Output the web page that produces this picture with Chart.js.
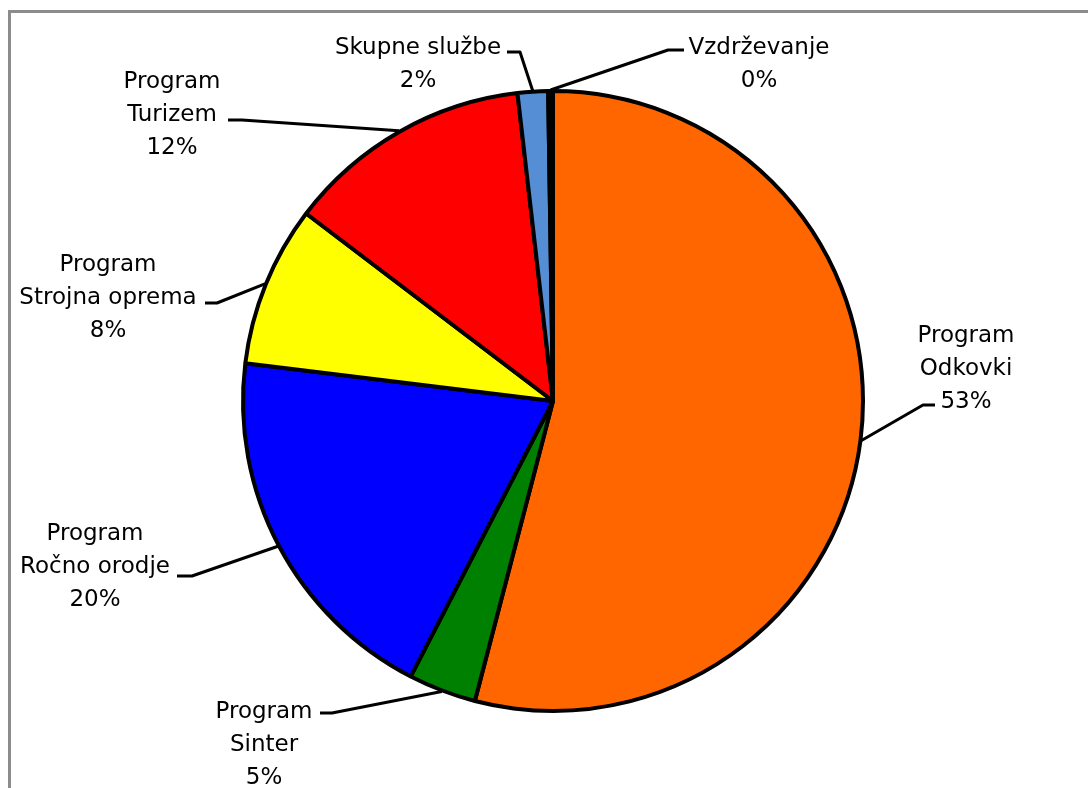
<!DOCTYPE html>
<html>
<head>
<meta charset="utf-8">
<script src="https://cdn.jsdelivr.net/npm/chart.js@4.4.1/dist/chart.umd.min.js"></script>
<style>
  html, body { margin: 0; padding: 0; background: #fff; }
  #wrap { width: 1088px; height: 788px; position: relative; }
</style>
</head>
<body>
<div id="wrap"><canvas id="pie" width="1088" height="788"></canvas></div>
<script>
'use strict';

// Slice names (two-line labels) and shares
const CATEGORIES = [
    ['Program', 'Odkovki'],
    ['Program', 'Sinter'],
    ['Program', 'Ročno orodje'],
    ['Program', 'Strojna oprema'],
    ['Program', 'Turizem'],
    ['Skupne službe'],
    ['Vzdrževanje'],
];
const SHARES = [54.05, 3.53, 19.36, 8.39, 12.83, 1.58, 0.25];
const PERCENT_LABELS = ['53%', '5%', '20%', '8%', '12%', '2%', '0%'];
const SLICE_COLORS = ['#FF6600', '#008000', '#0000FF', '#FFFF00', '#FF0000', '#558ED5', '#000000'];

// Label placement: text centre x, first baseline, leader elbow and end
const LABEL_LAYOUT = [
    { cx: 966, y: 342, elbow: [923, 405], end: [935, 405] },
    { cx: 264, y: 718, elbow: [332, 713], end: [320, 713] },
    { cx: 95,  y: 540, elbow: [192, 576], end: [177, 576] },
    { cx: 108, y: 271, elbow: [217, 303], end: [205, 303] },
    { cx: 172, y: 88,  elbow: [242, 120], end: [228, 120] },
    { cx: 418, y: 54,  elbow: [520, 52],  end: [507, 52] },
    { cx: 759, y: 54,  elbow: [668, 50],  end: [684, 50] },
];
const LINE_HEIGHT = 33;

const frame = {
    id: 'frame',
    beforeDraw(chart) {
        const ctx = chart.ctx;
        ctx.save();
        ctx.fillStyle = '#8c8c8c';
        ctx.fillRect(8, 10, chart.width - 8, 3);
        ctx.fillRect(8, 10, 3, chart.height - 10);
        ctx.restore();
    }
};

const labels = {
    id: 'sliceLabels',
    afterDatasetsDraw(chart) {
        const ctx = chart.ctx;
        const arcs = chart.getDatasetMeta(0).data;
        ctx.save();
        ctx.strokeStyle = '#000';
        ctx.lineWidth = 3;
        ctx.lineJoin = 'round';
        arcs.forEach((arc, i) => {
            const lay = LABEL_LAYOUT[i];
            const mid = (arc.startAngle + arc.endAngle) / 2;
            const r = arc.outerRadius + 1;
            ctx.beginPath();
            ctx.moveTo(arc.x + Math.cos(mid) * r, arc.y + Math.sin(mid) * r);
            ctx.lineTo(lay.elbow[0], lay.elbow[1]);
            ctx.lineTo(lay.end[0], lay.end[1]);
            ctx.stroke();

            const lines = CATEGORIES[i].concat([PERCENT_LABELS[i]]);
            ctx.fillStyle = '#000';
            ctx.font = '23px "DejaVu Sans"';
            ctx.textAlign = 'center';
            ctx.textBaseline = 'alphabetic';
            lines.forEach((t, k) => ctx.fillText(t, lay.cx, lay.y + k * LINE_HEIGHT));
        });
        ctx.restore();
    }
};

new Chart(document.getElementById('pie'), {
    type: 'pie',
    data: {
        labels: CATEGORIES.map(c => c.join(' ')),
        datasets: [{
            data: SHARES,
            backgroundColor: SLICE_COLORS,
            borderColor: '#000',
            borderWidth: 4,
        }]
    },
    options: {
        responsive: false,
        animation: false,
        layout: { padding: { left: 241, right: 223, top: 89, bottom: 75 } },
        plugins: {
            legend: { display: false },
            tooltip: { enabled: false }
        }
    },
    plugins: [frame, labels]
});
</script>
</body>
</html>
